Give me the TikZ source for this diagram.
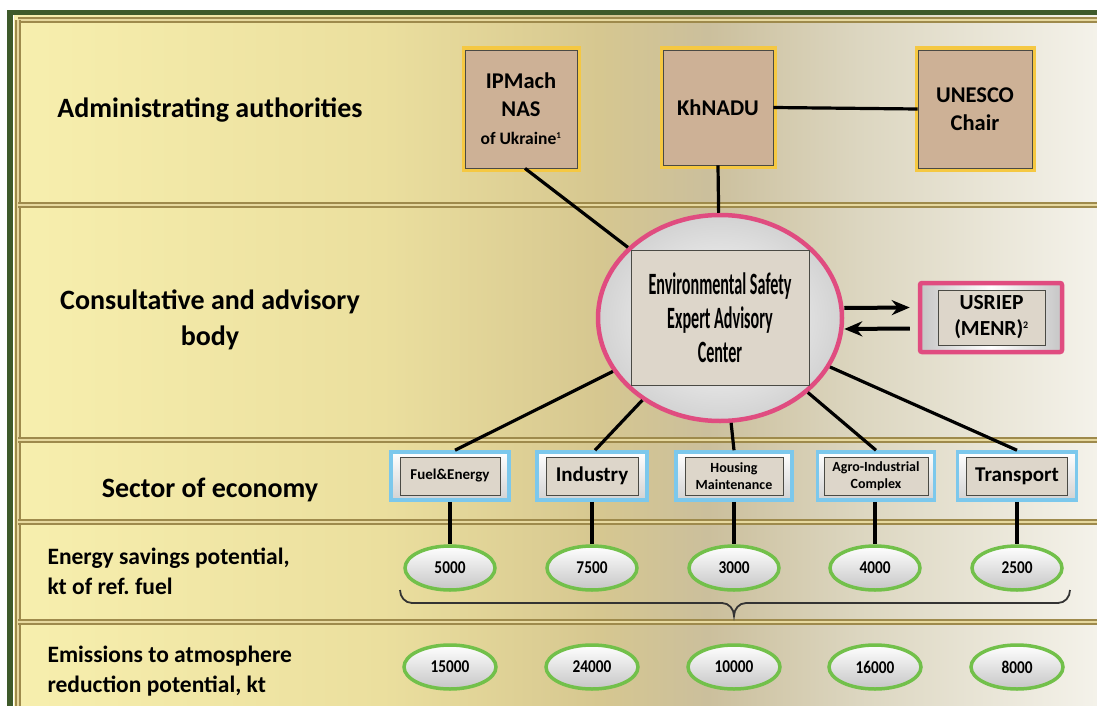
\documentclass[tikz,border=0pt]{standalone}
\usepackage{fontspec}
\setmainfont{Carlito}
\newfontfamily\condf[FakeStretch=0.52]{Carlito}
\newfontfamily\numf[FakeStretch=0.85]{Carlito}
\usetikzlibrary{shapes.geometric,arrows.meta,calc}
\definecolor{bgA}{HTML}{F7EFAE}
\definecolor{bgB}{HTML}{EBDF9E}
\definecolor{bgC}{HTML}{D6C790}
\definecolor{bgD}{HTML}{CBBF9C}
\definecolor{bgE}{HTML}{DCD6C0}
\definecolor{bgF}{HTML}{F4F2EA}
\definecolor{gdark}{HTML}{3E5A2A}
\definecolor{golddark}{HTML}{9E8A4C}
\definecolor{goldlight}{HTML}{E6D89E}
\definecolor{glowyellow}{HTML}{F5C842}
\definecolor{tan}{HTML}{CDB196}
\definecolor{pinkb}{HTML}{E04C80}
\definecolor{blueb}{HTML}{7CC8EC}
\definecolor{greenb}{HTML}{72C04A}
\definecolor{innergray}{HTML}{DDD6CA}
\definecolor{edgegray}{HTML}{4A4A44}
\pgfdeclarehorizontalshading{bgshade}{100bp}{color(0bp)=(bgA); color(25bp)=(bgA); color(42bp)=(bgB); color(52bp)=(bgC); color(57bp)=(bgD); color(64bp)=(bgE); color(75bp)=(bgF); color(100bp)=(bgF)}
\tikzset{
  divider/.style={draw=golddark, line width=2.4pt, double=goldlight, double distance=1.8pt},
  auth/.style={draw=edgegray, line width=0.8pt, fill=tan, inner sep=0pt, align=center,
    preaction={draw=glowyellow, line width=7pt},
    font=\fontsize{22.5}{28}\selectfont\bfseries},
  bandlabel/.style={font=\fontsize{28}{36}\selectfont\bfseries, align=center},
  rowlabel/.style={font=\fontsize{23.5}{30}\selectfont\bfseries, align=left, anchor=west},
  conn/.style={draw=black, line width=3.2pt},
  arr/.style={draw=black, line width=4pt, -{Stealth[length=18pt,width=15pt]}},
  secouter/.style={draw=blueb, line width=3.5pt, top color=white, bottom color=gray!35, minimum height=48pt, inner sep=0pt},
  secinner/.style={draw=edgegray, line width=0.8pt, fill=innergray, minimum height=38pt, inner sep=0pt, align=center, font=\bfseries},
  val/.style={ellipse, draw=greenb, line width=3.5pt, top color=white, bottom color=gray!45, minimum width=90pt, minimum height=44pt, inner sep=0pt, font=\fontsize{18}{20}\selectfont\numf\bfseries},
  x=1pt, y=-1pt
}
\begin{document}
\frenchspacing
\begin{tikzpicture}
\useasboundingbox (0,0) rectangle (1097,706);
% background
\fill[white] (0,0) rectangle (1097,706);
\shade[shading=bgshade] (14,14) rectangle (1097,706);
\fill[gdark] (7,10) rectangle (1097,15);
\fill[gdark] (7,10) rectangle (13,706);
% band dividers
\draw[divider] (18,20) -- (1097,20);
\draw[divider] (18,20) -- (18,706);
\draw[divider] (18,205) -- (1097,205);
\draw[divider] (18,440) -- (1097,440);
\draw[divider] (18,522) -- (1097,522);
\draw[divider] (18,622) -- (1097,622);
% left labels
\node[bandlabel] (lab1) at (210,110) {Administrating authorities};
\node[bandlabel] (lab2) at (210,320) {Consultative and advisory\\body};
\node[bandlabel] (lab3) at (210,490) {Sector of economy};
\node[rowlabel] (lab4) at (44,571) {Energy savings potential,\\kt of ref. fuel};
\node[rowlabel] (lab5) at (44,671) {Emissions to atmosphere\\reduction potential, kt};
% authorities
\node[auth, minimum width=112pt, minimum height=118pt] (ipm) at (521,109) {IPMach\\NAS\\{\fontsize{17.5}{22}\selectfont of Ukraine\textsuperscript{\fontsize{9}{9}\selectfont 1}}};
\node[auth, minimum width=110pt, minimum height=115pt] (khn) at (718,107.5) {KhNADU};
\node[auth, minimum width=114pt, minimum height=118pt] (une) at (975,109) {UNESCO\\Chair};
% center ellipse
\node[ellipse, draw=pinkb, line width=4.5pt, inner color=white, outer color=gray!35, minimum width=244pt, minimum height=206pt, inner sep=0pt] (esc) at (720,318) {};
\node[draw=edgegray, line width=0.8pt, fill=innergray, minimum width=178pt, minimum height=135pt, inner sep=0pt, align=center, font=\fontsize{31}{34}\selectfont\condf\bfseries] (escbox) at (720,317.5) {Environmental Safety\\Expert Advisory\\Center};
% USRIEP
\node[draw=pinkb, line width=4.5pt, rounded corners=2pt, left color=gray!45, right color=gray!45, middle color=white, minimum width=142pt, minimum height=69pt, inner sep=0pt] (usro) at (991,317.5) {};
\node[draw=edgegray, line width=0.8pt, fill=innergray, minimum width=107pt, minimum height=55pt, inner sep=0pt, align=center, font=\fontsize{21.5}{26}\selectfont\bfseries] (usr) at (991.5,317.5) {USRIEP\\(MENR)\textsuperscript{\fontsize{10}{10}\selectfont 2}};
% sectors
\node[secouter, minimum width=118pt] (fuelo) at (450,476) {};
\node[secinner, minimum width=100pt, font=\fontsize{15}{18}\selectfont\bfseries] (fuel) at (450,476) {Fuel\&Energy};
\node[secouter, minimum width=110pt] (indo) at (592,476) {};
\node[secinner, minimum width=92pt, font=\fontsize{21}{24}\selectfont\bfseries] (ind) at (592,476) {Industry};
\node[secouter, minimum width=116pt] (houo) at (734,476) {};
\node[secinner, minimum width=98pt, font=\fontsize{14}{17}\selectfont\bfseries] (hou) at (734,476) {Housing\\Maintenance};
\node[secouter, minimum width=117pt] (agro) at (876,476) {};
\node[secinner, minimum width=104pt, font=\fontsize{14}{17}\selectfont\bfseries] (agr) at (876,476) {Agro-Industrial\\Complex};
\node[secouter, minimum width=119pt] (trao) at (1017,476) {};
\node[secinner, minimum width=101pt, font=\fontsize{21}{24}\selectfont\bfseries] (tra) at (1017,476) {Transport};
% values
\node[val] (a1) at (450,568) {5000};
\node[val] (a2) at (592,568) {7500};
\node[val] (a3) at (734,568) {3000};
\node[val] (a4) at (875,568) {4000};
\node[val] (a5) at (1017,568) {2500};
\node[val, minimum width=92pt] (b1) at (450,667) {15000};
\node[val, minimum width=92pt] (b2) at (592,667) {24000};
\node[val, minimum width=92pt] (b3) at (734,667) {10000};
\node[val, minimum width=92pt] (b4) at (875,667) {16000};
\node[val, minimum width=92pt] (b5) at (1017,667) {8000};
% brace
\coordinate (brL) at (400,590);
\coordinate (brR) at (1070,590);
\coordinate (brT) at (734,616);
\draw[line width=1.8pt, draw=black!80] (brL) to[out=-90,in=180] (412,603) -- (722,603) to[out=0,in=90] (brT) to[out=90,in=180] (746,603) -- (1058,603) to[out=0,in=-90] (brR);
% connectors
\draw[conn] (khn.east) -- (une.west);
\draw[conn] ([xshift=4pt]ipm.south) -- (esc);
\draw[conn] (khn.south) -- (esc);
\draw[conn] (esc) -- ([xshift=5pt]fuelo.north);
\draw[conn] (esc) -- ([xshift=3pt]indo.north);
\draw[conn] (esc) -- (houo.north);
\draw[conn] (esc) -- (agro.north);
\draw[conn] (esc) -- (trao.north);
\draw[conn] (fuelo.south) -- (a1.north);
\draw[conn] (indo.south) -- (a2.north);
\draw[conn] (houo.south) -- (a3.north);
\draw[conn] ([xshift=-1pt]agro.south) -- (a4.north);
\draw[conn] (trao.south) -- (a5.north);
\draw[arr] ([yshift=10pt]esc.east) -- ([yshift=10pt,xshift=-8pt]usro.west);
\draw[arr] ([yshift=-11pt,xshift=-8pt]usro.west) -- ([yshift=-11pt]esc.east);
\end{tikzpicture}
\end{document}
